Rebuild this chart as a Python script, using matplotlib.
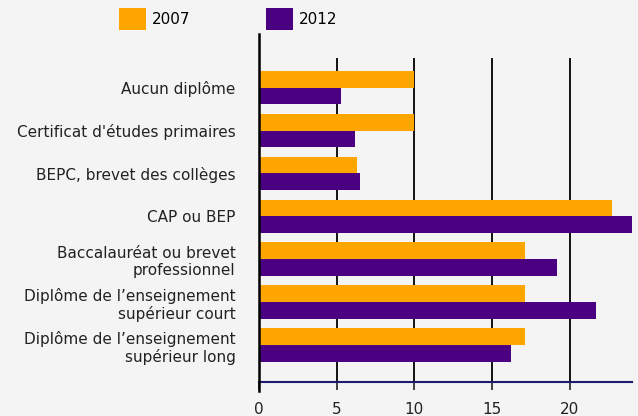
import matplotlib
matplotlib.use("Agg")
import matplotlib.pyplot as plt
import numpy as np
from matplotlib.lines import Line2D

categories = [
    "Aucun diplôme",
    "Certificat d'études primaires",
    "BEPC, brevet des collèges",
    "CAP ou BEP",
    "Baccalauréat ou brevet\nprofessionnel",
    "Diplôme de l\u2019enseignement\nsupérieur court",
    "Diplôme de l\u2019enseignement\nsupérieur long",
]
vals_2007 = [10.0, 10.0, 6.3, 22.7, 17.1, 17.1, 17.1]
vals_2012 = [5.3, 6.2, 6.5, 24.0, 19.2, 21.7, 16.2]
xticks = [0, 5, 10, 15, 20]

ORANGE = "#FFA500"
PURPLE = "#4B0082"
BG = "#F4F4F4"
FS = 11

fig = plt.figure(figsize=(6.38, 4.16), dpi=100, facecolor=BG)
ax = fig.add_axes([259 / 638, 1 - 381.7 / 416, (632 - 259) / 638, (381.7 - 58) / 416])
ax.set_facecolor(BG)

y = np.arange(len(categories))
h = 0.39
ax.barh(y - h / 2, vals_2007, height=h, color=ORANGE, label="2007", zorder=3)
ax.barh(y + h / 2, vals_2012, height=h, color=PURPLE, label="2012", zorder=3)

ax.set_xlim(0, 24)
ax.set_ylim(6.855, -0.69)
ax.set_yticks(y)
ax.set_yticklabels(categories, fontsize=FS, color="#222222")
ax.tick_params(axis="y", length=0, pad=17)
ax.set_xticks(xticks)
ax.tick_params(axis="x", direction="out", length=5.5, width=1.2, labelsize=FS,
               colors="#222222", pad=9)

for v in xticks[1:]:
    ax.axvline(v, color="#111111", lw=1.4, zorder=1)

for s in ("top", "right", "left"):
    ax.spines[s].set_visible(False)
ax.spines["bottom"].set_color("#1a1a6e")
ax.spines["bottom"].set_linewidth(1.5)
ax.spines["bottom"].set_zorder(4)

# axe vertical prolonge au-dessus du cadre
ax.add_line(Line2D([0, 0], [-0.03, 1.075], transform=ax.transAxes, color="black",
                   lw=1.8, clip_on=False, zorder=5))

fig.legend(loc="upper left", bbox_to_anchor=(119 / 638, 1 - 8 / 416), ncol=2,
           frameon=False, fontsize=FS, handlelength=1.77, handleheight=1.8,
           handletextpad=0.4, columnspacing=4.9, borderaxespad=0, borderpad=0)

fig.savefig("out.png", dpi=100, facecolor=BG)
